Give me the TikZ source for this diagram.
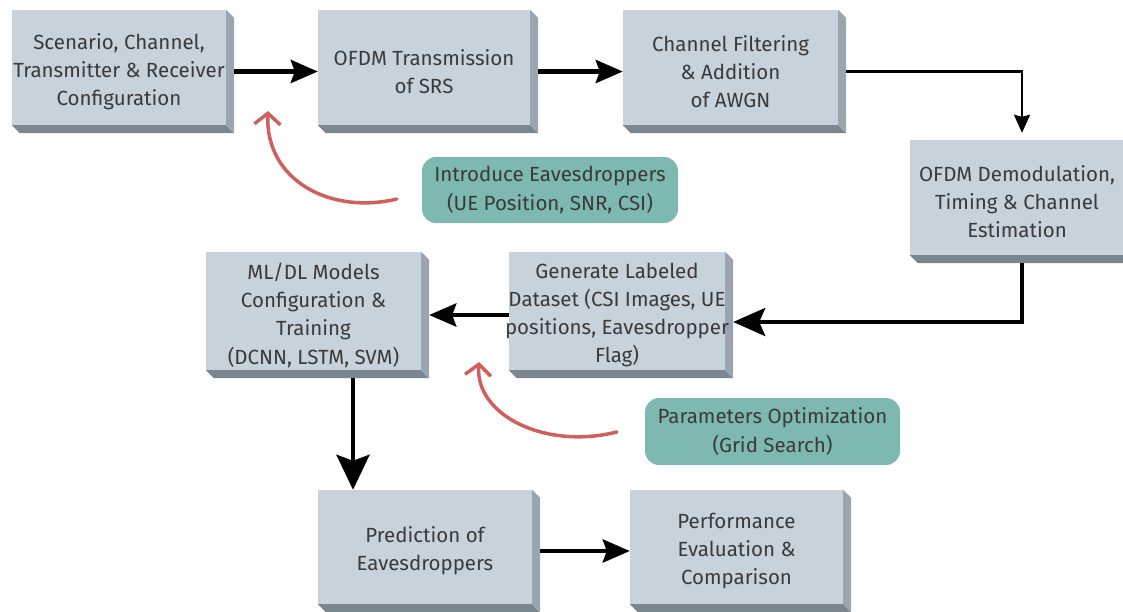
\documentclass[tikz,border=0pt]{standalone}
\usepackage{fontspec}
\setmainfont{Fira Sans}
\usetikzlibrary{arrows.meta,backgrounds}
\definecolor{frontc}{HTML}{C8D2DB}
\definecolor{sidec}{HTML}{99A5B0}
\definecolor{bottomc}{HTML}{7B878F}
\definecolor{tealc}{HTML}{7DB8B1}
\definecolor{redc}{HTML}{D0605E}
\definecolor{txtc}{HTML}{3A3A3A}
\newcommand\blockfaces[1]{%
\begin{pgfonlayer}{background}
\begin{scope}
\clip (0,0) rectangle (1123,611);
\fill[frontc] (#1.north west) rectangle ([shift={(0,-8)}]#1.south east);
\fill[bottomc] ([shift={(0,-8)}]#1.south west) -- ([shift={(0,-8)}]#1.south east) -- ([shift={(8,0)}]#1.south east) -- ([shift={(8,0)}]#1.south west) -- cycle;
\fill[sidec] (#1.north east) -- ([shift={(8,8)}]#1.north east) -- ([shift={(8,0)}]#1.south east) -- ([shift={(0,-8)}]#1.south east) -- cycle;
\end{scope}
\end{pgfonlayer}}
\tikzset{
  blk/.style={inner sep=0pt, align=center, text=txtc, font=\fontsize{20.5}{28.3}\selectfont},
  tealbox/.style={fill=tealc, rounded corners=14pt, inner sep=0pt, align=center, text=txtc,
    font=\fontsize{20.5}{29}\selectfont, minimum width=256, minimum height=66},
  thk/.style={line width=4.5pt, -{Stealth[length=27pt,width=23pt,inset=4pt]}},
  thn/.style={line width=2.5pt, -{Stealth[length=18pt,width=16pt,inset=2pt]}},
  big/.style={line width=4pt, -{Stealth[length=32pt,width=28pt,inset=6pt]}},
  bigv/.style={line width=4.5pt, -{Stealth[length=35pt,width=33pt,inset=6pt]}},
  redarc/.style={draw=redc, line width=3.5pt, line cap=round, -{Straight Barb[length=11pt,width=26pt]}}
}
\begin{document}
\begin{tikzpicture}[x=1pt,y=-1pt]
\useasboundingbox (0,0) rectangle (1123,611);

\node[blk, minimum width=214, minimum height=123] (scen) at (119,71.5)
  {Scenario, Channel,\\Transmitter \& Receiver\\Configuration};
\blockfaces{scen}
\node[blk, minimum width=212, minimum height=123] (ofdm) at (424,71.5)
  {OFDM Transmission\\of SRS};
\blockfaces{ofdm}
\node[blk, minimum width=215, minimum height=123] (chan) at (730.5,71.5)
  {Channel Filtering\\\& Addition\\of AWGN};
\blockfaces{chan}
\node[blk, minimum width=214, minimum height=123] (demod) at (1017,201.5)
  {OFDM Demodulation,\\Timing \& Channel\\Estimation};
\blockfaces{demod}
\node[blk, minimum width=216, minimum height=126] (gen) at (617,315)
  {Generate Labeled\\\makebox[216pt]{Dataset (CSI Images, UE}\\\makebox[216pt]{positions, Eavesdropper}\\Flag)};
\blockfaces{gen}
\node[blk, minimum width=215, minimum height=126] (ml) at (313.5,315)
  {ML/DL Models\\Configuration \&\\Training\\(DCNN, LSTM, SVM)};
\blockfaces{ml}
\node[blk, minimum width=214, minimum height=122] (pred) at (425,551)
  {Prediction of\\Eavesdroppers};
\blockfaces{pred}
\node[blk, minimum width=213, minimum height=122] (perf) at (736.5,551)
  {Performance\\Evaluation \&\\Comparison};
\blockfaces{perf}

\node[tealbox] (intro) at (550,190) {Introduce Eavesdroppers\\(UE Position, SNR, CSI)};
\node[tealbox, minimum width=255, minimum height=67] (param) at (772.5,431.5) {Parameters Optimization\\(Grid Search)};

\draw[thk] ([shift={(8,0)}]scen.east) -- (ofdm.west);
\draw[thk] ([shift={(8,0)}]ofdm.east) -- (chan.west);
\draw[thn] ([shift={(8,0)}]chan.east) -| ([shift={(5,-7)}]demod.north);
\draw[big] ([shift={(5,0)}]demod.south) |- ([shift={(8,7)}]gen.east);
\draw[thk] (gen.west) -- ([shift={(8,0)}]ml.east);
\coordinate (mls) at ([shift={(39.5,0)}]ml.south);
\draw[bigv] (mls) -- (mls |- pred.north);
\draw[thk] ([shift={(8,0)}]pred.east) -- (perf.west);

\coordinate (tip1) at (268,111);
\coordinate (tip2) at (479,362);
\draw[redarc] ([shift={(-25,9)}]intro.west) .. controls (330,215) and (265,180) .. (tip1);
\draw[redarc] ([shift={(-28,0.5)}]param.west) .. controls (545,450) and (475,415) .. (tip2);
\end{tikzpicture}
\end{document}
